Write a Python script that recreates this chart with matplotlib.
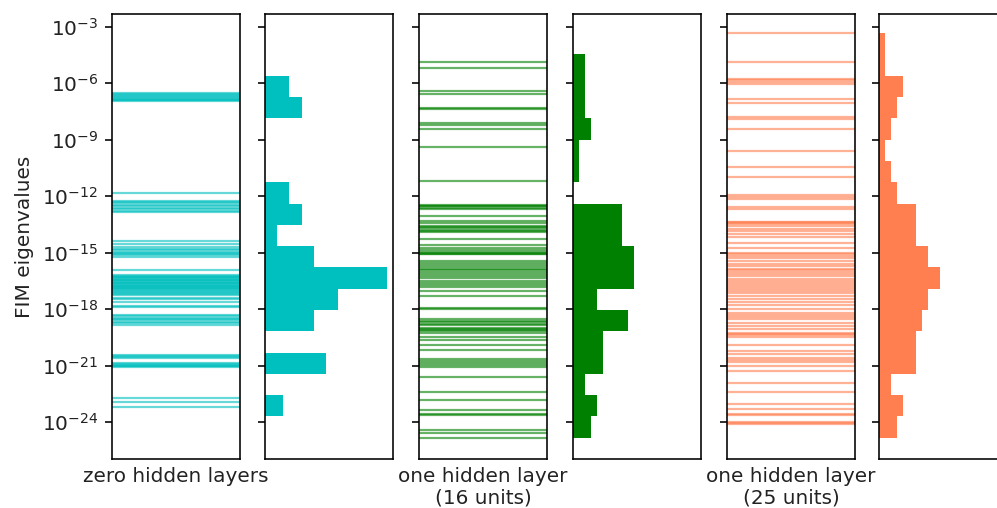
import numpy as np
import matplotlib
matplotlib.use("Agg")
import matplotlib.pyplot as plt
from matplotlib.ticker import NullLocator

# log10 of the FIM eigenvalues
eig_zero = [
    -6.55, -6.60, -6.65, -6.70,
    -6.76, -6.80, -6.85, -6.88, -6.92, -6.97,
    -11.82, -12.28, -12.32, -12.36,
    -12.45, -12.55, -12.62, -12.70, -12.78, -12.86,
    -14.37, -14.55,
    -14.72, -14.80, -14.88, -14.95, -15.02, -15.08, -15.15, -15.22,
    -15.92, -16.19, -16.23, -16.27, -16.31, -16.35, -16.39, -16.43, -16.47, -16.51,
    -16.55, -16.59, -16.63, -16.67, -16.71, -16.75, -16.79, -16.83, -16.87, -16.90,
    -16.95, -17.00, -17.05, -17.10, -17.15, -17.20, -17.25, -17.40, -17.45, -17.62, -17.85, -17.90,
    -18.30, -18.38, -18.45, -18.52, -18.60, -18.68, -18.75, -18.85,
    -20.44, -20.50, -20.56, -20.62, -20.88, -20.92, -20.96, -21.00, -21.04, -21.09,
    -22.74, -22.92, -23.22,
]

eig_16 = [
    -4.86, -5.18,
    -6.42, -6.57,
    -7.32, -7.36,
    -8.10, -8.22, -8.44,
    -9.37,
    -11.20,
    -12.45, -12.50, -12.55, -12.62, -12.68, -13.05, -13.30, -13.45,
    -13.60, -13.65, -13.70, -13.78, -13.85, -13.92, -14.30, -14.60,
    -14.75, -14.85, -14.95, -15.00, -15.05, -15.10, -15.45, -15.55, -15.65, -15.75,
    -15.85, -15.95, -16.05, -16.15, -16.25, -16.35, -16.50, -16.60, -16.70, -16.85,
    -17.05, -17.30, -17.95, -18.00,
    -18.55, -18.62, -18.70, -18.78, -18.85, -19.00, -19.05, -19.10, -19.15,
    -19.29, -19.47, -19.65, -19.92, -20.15,
    -20.67, -20.75, -20.85, -20.95, -21.10,
    -21.59, -22.39,
    -22.85, -23.35, -23.55, -23.62,
    -24.42, -24.60, -24.83,
]

eig_25 = [
    -3.35,
    -4.86,
    -5.80, -5.85, -5.92, -6.05,
    -6.82, -7.08, -7.82,
    -7.92, -8.45,
    -9.61,
    -10.44, -10.97,
    -11.94, -12.03, -12.17,
    -12.56, -12.68, -13.35, -13.40, -13.45, -13.50,
    -13.60, -13.75, -13.85, -14.00, -14.15, -14.50,
    -14.75, -15.00, -15.10, -15.20, -15.30, -15.45, -15.60, -15.72,
    -15.85, -15.95, -16.05, -16.15, -16.25, -16.40, -16.50, -16.60, -16.70, -16.85,
    -16.95, -17.05, -17.15, -17.30, -17.45, -17.60, -17.80, -17.98,
    -18.20, -18.30, -18.40, -18.50, -18.75, -18.90, -19.05,
    -19.25, -19.32, -19.40, -19.50, -19.90, -20.20,
    -20.40, -20.60, -20.70, -20.80, -21.00, -21.30,
    -21.90, -22.40,
    -23.05, -23.30, -23.55, -23.60,
    -23.98, -24.05, -24.10,
]

models = [eig_zero, eig_16, eig_25]
labels = ["zero hidden layers", "one hidden layer\n(16 units)", "one hidden layer\n(25 units)"]
colors = ["c", "g", "coral"]
yticks_exp = [-3, -6, -9, -12, -15, -18, -21, -24]

dpi = 144
fig = plt.figure(figsize=(997 / dpi, 508 / dpi), dpi=dpi)

# shared histogram bins over the whole range of eigenvalues
all_logs = np.concatenate([np.array(m) for m in models])
edges = np.linspace(all_logs.min(), all_logs.max(), 20)
bins = 10.0 ** edges

W, H = 997.0, 508.0
lefts = [112, 265, 419, 573, 727, 879]
top, bottom = 14, 459

axes = []
for lx in lefts:
    ax = fig.add_axes([lx / W, (H - bottom) / H, 128 / W, (bottom - top) / H])
    axes.append(ax)

for k, (vals, lab, col) in enumerate(zip(models, labels, colors)):
    ax_l = axes[2 * k]
    ax_h = axes[2 * k + 1]
    ev = 10.0 ** np.array(vals)

    ax_l.hlines(ev, 0, 1, transform=ax_l.get_yaxis_transform(), color=col, alpha=0.6, lw=1.1)
    ax_l.set_xlabel(lab, fontsize=10, color="#222222")

    ax_h.hist(ev, bins=bins, orientation="horizontal", color=col)
    ax_h.set_xlim(0, 21)

for i, ax in enumerate(axes):
    ax.set_yscale("log")
    ax.set_ylim(10.0 ** -25.96, 10.0 ** -2.33)
    ax.set_yticks([10.0 ** e for e in yticks_exp])
    ax.yaxis.set_minor_locator(NullLocator())
    ax.set_xticks([])
    ax.tick_params(axis="y", labelcolor="#222222")
    if i > 0:
        ax.tick_params(axis="y", labelleft=False)

axes[0].set_ylabel("FIM eigenvalues", fontsize=10, color="#222222")

fig.savefig("out.png", dpi=dpi)
